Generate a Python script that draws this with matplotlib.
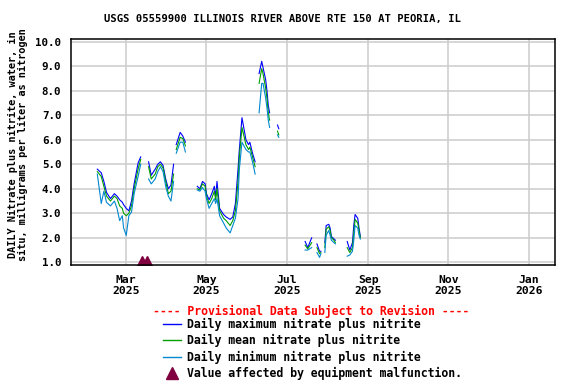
import numpy as np
import pandas as pd
import matplotlib
matplotlib.use("Agg")
import matplotlib.pyplot as plt
import matplotlib.dates as mdates
from matplotlib.lines import Line2D

plt.rcParams['font.family'] = ['DejaVu Sans Mono']
plt.rcParams['font.weight'] = 'bold'

nan = np.nan

# daily values (mg/L as N); nan marks a gap in the record
dates = ['2025-02-07', '2025-02-10', '2025-02-12', '2025-02-14', '2025-02-17', '2025-02-20',
         '2025-02-22', '2025-02-24', '2025-02-26', '2025-02-27', '2025-03-01', '2025-03-03',
         '2025-03-05', '2025-03-07', '2025-03-10', '2025-03-12', '2025-03-14',
         '2025-03-18', '2025-03-20', '2025-03-23', '2025-03-25', '2025-03-27', '2025-03-29',
         '2025-03-31', '2025-04-02', '2025-04-04', '2025-04-06', '2025-04-07',
         '2025-04-08', '2025-04-11', '2025-04-13', '2025-04-15', '2025-04-18',
         '2025-04-24', '2025-04-26', '2025-04-28', '2025-04-30', '2025-05-01', '2025-05-03',
         '2025-05-05', '2025-05-07', '2025-05-08', '2025-05-09', '2025-05-11', '2025-05-14',
         '2025-05-16', '2025-05-19', '2025-05-21', '2025-05-23', '2025-05-25', '2025-05-26',
         '2025-05-28', '2025-05-31', '2025-06-02', '2025-06-03', '2025-06-05', '2025-06-07',
         '2025-06-08',
         '2025-06-10', '2025-06-12', '2025-06-13', '2025-06-15', '2025-06-16', '2025-06-17',
         '2025-06-18', '2025-06-20',
         '2025-06-24', '2025-06-25', '2025-06-27',
         '2025-07-15', '2025-07-17', '2025-07-20', '2025-07-22',
         '2025-07-24', '2025-07-26', '2025-07-27', '2025-07-28',
         '2025-07-30', '2025-07-31', '2025-08-02', '2025-08-03', '2025-08-04', '2025-08-06',
         '2025-08-07', '2025-08-10',
         '2025-08-16', '2025-08-18', '2025-08-20', '2025-08-21', '2025-08-22', '2025-08-24',
         '2025-08-25', '2025-08-26']

daily_max = [4.80, 4.65, 4.30, 3.85, 3.60, 3.80,
             3.70, 3.55, 3.45, 3.35, 3.20, 3.10,
             3.50, 4.20, 5.05, 5.30, nan,
             5.10, 4.55, 4.80, 5.00, 5.10, 4.95,
             4.40, 4.00, 4.15, 5.00, nan,
             5.80, 6.30, 6.15, 5.90, nan,
             4.10, 4.00, 4.30, 4.20, 3.80, 3.55,
             3.80, 4.10, 3.65, 4.30, 3.20, 2.95,
             2.85, 2.75, 2.85, 3.40, 4.80, 5.60,
             6.90, 6.00, 5.80, 5.90, 5.45, 5.10,
             nan,
             8.70, 9.20, 8.95, 8.45, 8.00, 7.40,
             7.10, nan,
             6.60, 6.45, nan,
             1.85, 1.60, 2.00, nan,
             1.75, 1.45, 1.45, nan,
             1.80, 2.50, 2.55, 2.40, 2.05, 1.95,
             1.90, nan,
             1.85, 1.50, 1.80, 2.50, 2.95, 2.80,
             2.40, 2.05]

daily_mean = [4.70, 4.50, 4.10, 3.70, 3.50, 3.70,
              3.60, 3.30, 3.20, 3.00, 2.90, 3.00,
              3.30, 4.00, 4.80, 5.20, nan,
              4.90, 4.40, 4.60, 4.90, 5.00, 4.85,
              4.30, 3.80, 3.90, 4.60, nan,
              5.60, 6.10, 6.05, 5.75, nan,
              4.00, 3.95, 4.20, 4.10, 3.70, 3.40,
              3.60, 3.90, 3.55, 4.00, 3.10, 2.80,
              2.70, 2.50, 2.70, 3.10, 4.30, 5.30,
              6.50, 5.80, 5.60, 5.70, 5.30, 4.90,
              nan,
              8.30, 8.90, 8.70, 8.10, 7.70, 7.10,
              6.80, nan,
              6.35, 6.20, nan,
              1.70, 1.55, 1.80, nan,
              1.60, 1.35, 1.40, nan,
              1.60, 2.35, 2.45, 2.30, 2.00, 1.90,
              1.80, nan,
              1.60, 1.40, 1.60, 2.20, 2.75, 2.60,
              2.30, 2.00]

daily_min = [4.60, 3.40, 3.90, 3.45, 3.30, 3.50,
             3.20, 2.70, 2.90, 2.40, 2.10, 2.90,
             3.05, 3.80, 4.50, 5.00, nan,
             4.40, 4.20, 4.40, 4.70, 4.90, 4.70,
             4.10, 3.70, 3.50, 4.30, nan,
             5.45, 5.90, 5.90, 5.50, nan,
             3.95, 3.90, 4.05, 3.90, 3.60, 3.20,
             3.40, 3.60, 3.40, 3.60, 2.90, 2.60,
             2.40, 2.20, 2.50, 2.80, 3.60, 4.80,
             5.90, 5.60, 5.50, 5.50, 5.10, 4.60,
             nan,
             7.10, 8.30, 8.30, 7.70, 7.30, 6.80,
             6.50, nan,
             6.20, 6.10, nan,
             1.50, 1.50, 1.60, nan,
             1.40, 1.20, 1.35, nan,
             1.40, 2.10, 2.30, 2.10, 1.90, 1.80,
             1.75, nan,
             1.25, 1.30, 1.45, 1.90, 2.50, 2.40,
             2.10, 1.95]

# days flagged for equipment malfunction
malfunction_dates = ['2025-03-13', '2025-03-17']
malfunction_values = [1.0, 1.0]

t = pd.to_datetime(dates)
tm = pd.to_datetime(malfunction_dates)

fig = plt.figure(figsize=(5.76, 3.84), dpi=100)
ax = fig.add_axes([71 / 576, 1 - 265 / 384, (555 - 71) / 576, (265 - 39) / 384])

ax.plot(t, daily_max, color='#0000FF', lw=0.8)
ax.plot(t, daily_mean, color='#00A000', lw=0.8)
ax.plot(t, daily_min, color='#0088D0', lw=0.8)
ax.plot(tm, malfunction_values, linestyle='none', marker='^', markersize=9,
        color='#800040', clip_on=True)

ax.set_xlim(pd.Timestamp('2025-01-18'), pd.Timestamp('2026-01-21'))
ax.set_ylim(0.89, 10.11)
ax.set_yticks(np.arange(1, 11))
ax.yaxis.set_major_formatter(matplotlib.ticker.FormatStrFormatter('%.1f'))
ax.xaxis.set_major_locator(mdates.MonthLocator(bymonth=[1, 3, 5, 7, 9, 11]))
ax.xaxis.set_major_formatter(mdates.DateFormatter('%b\n%Y'))
ax.tick_params(axis='y', length=0, pad=7, labelsize=7.8)
ax.tick_params(axis='x', length=0, pad=7, labelsize=8.2)
for lab in ax.get_xticklabels():
    lab.set_linespacing(1.1)
ax.grid(True, color='#CCCCCC', lw=1.1)
ax.set_axisbelow(True)
for s in ax.spines.values():
    s.set_linewidth(1.1)

fig.text(282 / 576, 1 - 19 / 384, 'USGS 05559900 ILLINOIS RIVER ABOVE RTE 150 AT PEORIA, IL',
         ha='center', va='center', fontsize=7.6)
fig.text(18 / 576, 1 - 145 / 384,
         'DAILY Nitrate plus nitrite, water, in\nsitu, milligrams per liter as nitrogen',
         rotation=90, ha='center', va='center', multialignment='center',
         fontsize=7.4, linespacing=1.05)
fig.text(311 / 576, 1 - 311 / 384, '---- Provisional Data Subject to Revision ----',
         ha='center', va='center', color='#FF0000', fontsize=8.3)

handles = [Line2D([], [], color='#0000FF', lw=1.0),
           Line2D([], [], color='#00A000', lw=1.0),
           Line2D([], [], color='#0088D0', lw=1.0),
           Line2D([], [], linestyle='none', marker='^', markersize=8, color='#800040')]
labels = ['Daily maximum nitrate plus nitrite',
          'Daily mean nitrate plus nitrite',
          'Daily minimum nitrate plus nitrite',
          'Value affected by equipment malfunction.']
fig.legend(handles, labels, loc='upper left', bbox_to_anchor=(163 / 576, 1 - 318 / 384),
           frameon=False, fontsize=8.3, handlelength=1.6, handletextpad=0.45,
           labelspacing=0.28, borderpad=0, borderaxespad=0)

fig.savefig('out.png', dpi=100)
